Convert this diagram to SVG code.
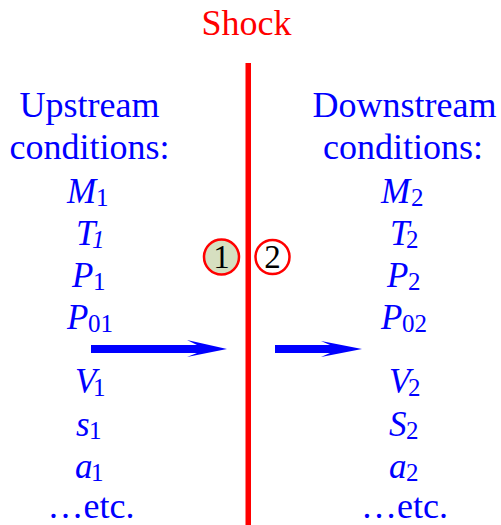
<svg xmlns="http://www.w3.org/2000/svg" width="501" height="525" viewBox="0 0 501 525">
<rect width="501" height="525" fill="#fff"/>
<g id="shock">
<text x="201.5" y="35" font-size="36" fill="#FF0000" font-family="Liberation Serif">Shock</text>
<rect x="245.5" y="63" width="5.5" height="462" fill="#FF0000"/>
</g>
<g id="upstream">
<text x="19.5" y="117" font-size="36" fill="#0000FF" font-family="Liberation Serif">Upstream</text>
<text x="9.5" y="159" font-size="36" fill="#0000FF" font-family="Liberation Serif">conditions:</text>
<text x="67" y="203" font-size="35" fill="#0000FF" font-family="Liberation Serif" font-style="italic">M</text>
<text x="96" y="206" font-size="25" fill="#0000FF" font-family="Liberation Serif">1</text>
<text x="76" y="245" font-size="35" fill="#0000FF" font-family="Liberation Serif" font-style="italic">T</text>
<text x="92" y="248" font-size="25" fill="#0000FF" font-family="Liberation Serif" font-style="italic">1</text>
<text x="72" y="287" font-size="35" fill="#0000FF" font-family="Liberation Serif" font-style="italic">P</text>
<text x="93" y="290" font-size="25" fill="#0000FF" font-family="Liberation Serif">1</text>
<text x="67" y="329" font-size="35" fill="#0000FF" font-family="Liberation Serif" font-style="italic">P</text>
<text x="88" y="332" font-size="25" fill="#0000FF" font-family="Liberation Serif">01</text>
<text x="75" y="393" font-size="35" fill="#0000FF" font-family="Liberation Serif" font-style="italic">V</text>
<text x="93" y="396" font-size="25" fill="#0000FF" font-family="Liberation Serif">1</text>
<text x="76" y="436" font-size="35" fill="#0000FF" font-family="Liberation Serif" font-style="italic">s</text>
<text x="89" y="439" font-size="25" fill="#0000FF" font-family="Liberation Serif">1</text>
<text x="75" y="478" font-size="35" fill="#0000FF" font-family="Liberation Serif" font-style="italic">a</text>
<text x="91" y="481" font-size="25" fill="#0000FF" font-family="Liberation Serif">1</text>
<text x="47.5" y="518" font-size="36" fill="#0000FF" font-family="Liberation Serif">&#8230;etc.</text>
</g>
<g id="downstream">
<text x="312.5" y="117" font-size="36" fill="#0000FF" font-family="Liberation Serif">Downstream</text>
<text x="323" y="159" font-size="36" fill="#0000FF" font-family="Liberation Serif">conditions:</text>
<text x="381" y="203" font-size="35" fill="#0000FF" font-family="Liberation Serif" font-style="italic">M</text>
<text x="411" y="206" font-size="25" fill="#0000FF" font-family="Liberation Serif">2</text>
<text x="390" y="245" font-size="35" fill="#0000FF" font-family="Liberation Serif" font-style="italic">T</text>
<text x="406" y="248" font-size="25" fill="#0000FF" font-family="Liberation Serif">2</text>
<text x="387" y="287" font-size="35" fill="#0000FF" font-family="Liberation Serif" font-style="italic">P</text>
<text x="408" y="290" font-size="25" fill="#0000FF" font-family="Liberation Serif">2</text>
<text x="381" y="329" font-size="35" fill="#0000FF" font-family="Liberation Serif" font-style="italic">P</text>
<text x="402" y="332" font-size="25" fill="#0000FF" font-family="Liberation Serif">02</text>
<text x="389" y="393" font-size="35" fill="#0000FF" font-family="Liberation Serif" font-style="italic">V</text>
<text x="408" y="396" font-size="25" fill="#0000FF" font-family="Liberation Serif">2</text>
<text x="389" y="436" font-size="35" fill="#0000FF" font-family="Liberation Serif" font-style="italic">S</text>
<text x="406" y="439" font-size="25" fill="#0000FF" font-family="Liberation Serif">2</text>
<text x="389" y="478" font-size="35" fill="#0000FF" font-family="Liberation Serif" font-style="italic">a</text>
<text x="406" y="481" font-size="25" fill="#0000FF" font-family="Liberation Serif">2</text>
<text x="361" y="518" font-size="36" fill="#0000FF" font-family="Liberation Serif">&#8230;etc.</text>
</g>
<g id="state1">
<circle cx="221.5" cy="257" r="17.5" fill="#D6DFC0" stroke="#FF0000" stroke-width="2.5"/>
<text x="213.3" y="268" font-size="33" fill="#000" font-family="Liberation Serif">1</text>
</g>
<g id="state2">
<circle cx="272.5" cy="257" r="17" fill="#fff" stroke="#FF0000" stroke-width="2.5"/>
<text x="264.3" y="268" font-size="33" fill="#000" font-family="Liberation Serif">2</text>
</g>
<g id="connectors" fill="#0000FF">
<polygon points="91,345 197,345 187,340 227,349 187,357 197,353 91,353"/>
<polygon points="275,345 330,345 321,341 362,349 321,357 330,353 275,353"/>
</g>
</svg>
